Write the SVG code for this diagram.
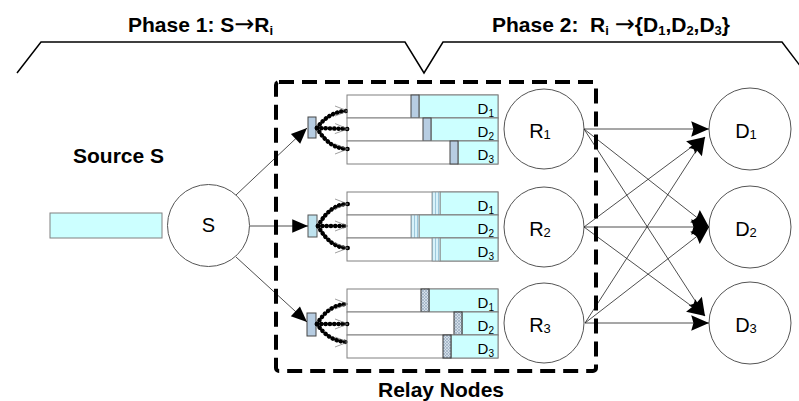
<svg xmlns="http://www.w3.org/2000/svg" width="799" height="401" viewBox="0 0 799 401">
<style>
.title{font-family:"Liberation Sans",Arial,sans-serif;font-weight:bold;font-size:21px;fill:#000}
.arr{font-family:"DejaVu Sans",sans-serif;font-weight:normal;font-size:24px}
.lbl{font-family:"Liberation Sans",Arial,sans-serif;font-size:20px;fill:#000}
.dl{font-family:"Liberation Sans",Arial,sans-serif;font-size:15px;fill:#000}
.node{fill:#fff;stroke:#555;stroke-width:1}
.row{fill:#fff;stroke:#808080;stroke-width:1}
.cy{fill:#ccffff;stroke:#808080;stroke-width:1}
.mk{fill:#b7cde2;stroke:#444;stroke-width:1}
.vs{fill:url(#vstripe);stroke:#888;stroke-width:0.8}
.xh{fill:url(#xhatch);stroke:#333;stroke-width:1}
.edge{fill:none;stroke:#222;stroke-width:0.8}
.dot{fill:none;stroke:#000;stroke-width:4.5;stroke-linecap:round;stroke-dasharray:0.1 4.2}
</style>
<defs>
<pattern id="vstripe" width="3" height="3" patternUnits="userSpaceOnUse"><rect width="3" height="3" fill="#d8f2fa"/><rect width="1" height="3" fill="#9cc8dc"/></pattern>
<pattern id="xhatch" width="3" height="3" patternUnits="userSpaceOnUse"><rect width="3" height="3" fill="#d3dee8"/><path d="M0,0 L3,3 M3,0 L0,3" stroke="#8fa3b8" stroke-width="0.6"/></pattern>
<marker id="ah" markerUnits="userSpaceOnUse" markerWidth="20" markerHeight="20" viewBox="-17 -9 18 18" refX="0" refY="0" orient="auto"><path d="M0,0 L-16,-7 L-14,0 L-16,7 Z" fill="#000"/></marker>
<marker id="ahs" markerUnits="userSpaceOnUse" markerWidth="18" markerHeight="18" viewBox="-15 -8 16 16" refX="0" refY="0" orient="auto"><path d="M0,0 L-14,-6 L-14,6 Z" fill="#000"/></marker>
<marker id="chev" markerUnits="userSpaceOnUse" markerWidth="16" markerHeight="12" viewBox="-14 -6 15 12" refX="0" refY="0" orient="auto"><path d="M-13,-5 L0,0 L-13,5" fill="none" stroke="#777" stroke-width="0.7"/></marker>
</defs>

<g id="brace"><path d="M17,73 L41,42 L405,42 L424,73 L443,42 L782,42 L801,67" fill="none" stroke="#000" stroke-width="1.5"/></g>
<text class="title" x="128" y="32">Phase 1: S<tspan class="arr">→</tspan>R<tspan font-size="13" dy="3">i</tspan></text>
<text class="title" x="492" y="32" xml:space="preserve">Phase 2:  R<tspan font-size="13" dy="3">i</tspan><tspan dy="-3"> </tspan><tspan class="arr">→</tspan>{D<tspan font-size="13" dy="3">1</tspan><tspan dy="-3">,D</tspan><tspan font-size="13" dy="3">2</tspan><tspan dy="-3">,D</tspan><tspan font-size="13" dy="3">3</tspan><tspan dy="-3">}</tspan></text>
<text class="title" x="73" y="163">Source S</text>
<text class="title" x="378" y="397">Relay Nodes</text>

<g id="source-buffer"><rect x="50" y="213" width="112" height="25" class="cy"/></g>
<g id="S"><circle cx="208.5" cy="225.5" r="41" class="node"/><text class="lbl" x="208.5" y="232" text-anchor="middle">S</text></g>

<g id="relay1-buffer">
<rect x="347" y="95" width="151" height="23" class="row"/><rect x="419" y="95" width="79" height="23" class="cy"/><rect x="411" y="95" width="8" height="23" class="mk"/>
<rect x="347" y="118" width="151" height="23" class="row"/><rect x="431" y="118" width="67" height="23" class="cy"/><rect x="423" y="118" width="8" height="23" class="mk"/>
<rect x="347" y="141" width="151" height="23" class="row"/><rect x="458" y="141" width="40" height="23" class="cy"/><rect x="450" y="141" width="8" height="23" class="mk"/>
<text class="dl" x="494" y="114" text-anchor="end">D<tspan font-size="10" dy="3">1</tspan></text>
<text class="dl" x="494" y="137" text-anchor="end">D<tspan font-size="10" dy="3">2</tspan></text>
<text class="dl" x="494" y="160" text-anchor="end">D<tspan font-size="10" dy="3">3</tspan></text>
<rect x="308" y="117" width="8" height="21" class="mk"/>
</g>
<g id="relay2-buffer">
<rect x="347" y="192" width="151" height="23" class="row"/><rect x="440" y="192" width="58" height="23" class="cy"/><rect x="432" y="192" width="8" height="23" class="vs"/>
<rect x="347" y="215" width="151" height="23" class="row"/><rect x="419" y="215" width="79" height="23" class="cy"/><rect x="411" y="215" width="8" height="23" class="vs"/>
<rect x="347" y="238" width="151" height="23" class="row"/><rect x="440" y="238" width="58" height="23" class="cy"/><rect x="432" y="238" width="8" height="23" class="vs"/>
<text class="dl" x="494" y="211" text-anchor="end">D<tspan font-size="10" dy="3">1</tspan></text>
<text class="dl" x="494" y="234" text-anchor="end">D<tspan font-size="10" dy="3">2</tspan></text>
<text class="dl" x="494" y="257" text-anchor="end">D<tspan font-size="10" dy="3">3</tspan></text>
<rect x="308" y="215" width="9" height="22" fill="#bfe3ef" stroke="#555" stroke-width="1"/>
</g>
<g id="relay3-buffer">
<rect x="347" y="289" width="151" height="23" class="row"/><rect x="429" y="289" width="69" height="23" class="cy"/><rect x="421" y="289" width="8" height="23" class="xh"/>
<rect x="347" y="312" width="151" height="23" class="row"/><rect x="462" y="312" width="36" height="23" class="cy"/><rect x="454" y="312" width="8" height="23" class="xh"/>
<rect x="347" y="335" width="151" height="23" class="row"/><rect x="451" y="335" width="47" height="23" class="cy"/><rect x="443" y="335" width="8" height="23" class="xh"/>
<text class="dl" x="494" y="308" text-anchor="end">D<tspan font-size="10" dy="3">1</tspan></text>
<text class="dl" x="494" y="331" text-anchor="end">D<tspan font-size="10" dy="3">2</tspan></text>
<text class="dl" x="494" y="354" text-anchor="end">D<tspan font-size="10" dy="3">3</tspan></text>
<rect x="307" y="313" width="9" height="23" class="mk"/>
</g>

<g id="R1"><circle cx="544" cy="129" r="40" class="node"/><text class="lbl" x="540" y="138" text-anchor="middle">R<tspan font-size="13" dy="1">1</tspan></text></g>
<g id="R2"><circle cx="544" cy="227" r="40" class="node"/><text class="lbl" x="540" y="236" text-anchor="middle">R<tspan font-size="13" dy="1">2</tspan></text></g>
<g id="R3"><circle cx="544" cy="323" r="40" class="node"/><text class="lbl" x="540" y="332" text-anchor="middle">R<tspan font-size="13" dy="1">3</tspan></text></g>
<g id="D1"><circle cx="750" cy="129" r="41" class="node"/><text class="lbl" x="746" y="138" text-anchor="middle">D<tspan font-size="13" dy="1">1</tspan></text></g>
<g id="D2"><circle cx="750" cy="227" r="41" class="node"/><text class="lbl" x="746" y="236" text-anchor="middle">D<tspan font-size="13" dy="1">2</tspan></text></g>
<g id="D3"><circle cx="750" cy="323" r="41" class="node"/><text class="lbl" x="746" y="332" text-anchor="middle">D<tspan font-size="13" dy="1">3</tspan></text></g>

<g id="connectors">
<line class="edge" x1="236" y1="195" x2="307" y2="128" marker-end="url(#ahs)"/>
<line class="edge" x1="250" y1="226" x2="308" y2="226" marker-end="url(#ahs)"/>
<line class="edge" x1="236" y1="257" x2="307" y2="322" marker-end="url(#ahs)"/>

<path class="dot" d="M317,128 Q329,111 348,111" marker-end="url(#chev)"/>
<path class="dot" d="M317,128 L348,129" marker-end="url(#chev)"/>
<path class="dot" d="M317,128 Q329,149 348,149" marker-end="url(#chev)"/>
<path class="dot" d="M318,226 Q330,204 348,204" marker-end="url(#chev)"/>
<path class="dot" d="M318,226 L348,226" marker-end="url(#chev)"/>
<path class="dot" d="M318,226 Q330,248 348,248" marker-end="url(#chev)"/>
<path class="dot" d="M317,324 Q329,304 348,304" marker-end="url(#chev)"/>
<path class="dot" d="M317,324 L348,324" marker-end="url(#chev)"/>
<path class="dot" d="M317,324 Q329,342 348,342" marker-end="url(#chev)"/>

<line class="edge" x1="584" y1="129" x2="709" y2="129" marker-end="url(#ah)"/>
<line class="edge" x1="584" y1="129" x2="709" y2="227" marker-end="url(#ah)"/>
<line class="edge" x1="584" y1="129" x2="705" y2="316" marker-end="url(#ah)"/>
<line class="edge" x1="584" y1="227" x2="705" y2="137" marker-end="url(#ah)"/>
<line class="edge" x1="584" y1="227" x2="709" y2="227" marker-end="url(#ah)"/>
<line class="edge" x1="584" y1="227" x2="705" y2="316" marker-end="url(#ah)"/>
<line class="edge" x1="585" y1="323" x2="705" y2="137" marker-end="url(#ah)"/>
<line class="edge" x1="585" y1="323" x2="709" y2="227" marker-end="url(#ah)"/>
<line class="edge" x1="585" y1="323" x2="709" y2="323" marker-end="url(#ah)"/>
</g>

<g id="relay-box"><rect x="276" y="82" width="320" height="289" rx="3" fill="none" stroke="#000" stroke-width="4" stroke-dasharray="15 8"/></g>
</svg>
